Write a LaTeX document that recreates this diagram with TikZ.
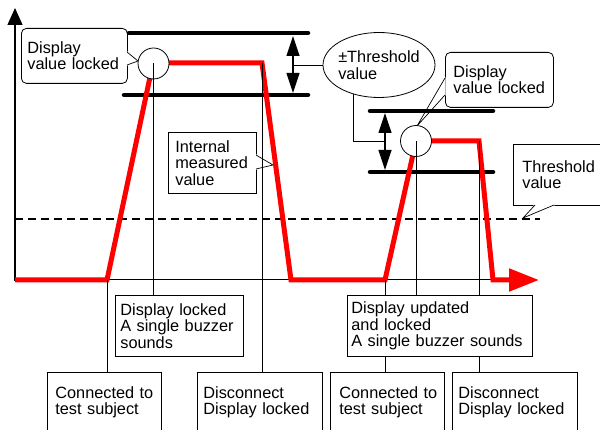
\documentclass[tikz,border=0pt]{standalone}
\usepackage{fontspec}
\setmainfont{Liberation Sans}
\usetikzlibrary{arrows.meta,shapes.geometric}
\newcommand\diagfont{\fontsize{16.3}{16.5}\selectfont}
\tikzset{
 box/.style={draw, line width=0.8pt, fill=white, anchor=north west, align=left, inner ysep=0pt, font=\diagfont},
 callout/.style={box, rounded corners=5pt},
 conn/.style={line width=0.7pt},
 bar/.style={line width=4.5pt, line cap=round},
 dbl/.style={line width=1.2pt, arrows={Triangle[length=20pt,width=13pt]-Triangle[length=20pt,width=13pt]}},
 signal/.style={red, line width=5pt, line join=miter, arrows={-Triangle[length=30pt,width=22pt]}},
 marker/.style={circle, draw, line width=0.8pt, fill=white, minimum size=31pt, inner sep=0pt},
 ptrfill/.style={white, line width=1.4pt, line join=round},
}
\begin{document}
\begin{tikzpicture}[x=1pt,y=-1pt]
\useasboundingbox (0,0) rectangle (600,430);
\fill[white] (0,0) rectangle (600,430);

% boxes and callouts
\node[callout, inner xsep=6pt, text width=94pt, minimum height=55pt] (cl1) at (21,28) {Display\\value locked};
\node[callout, inner xsep=8pt, text width=92pt, minimum height=55pt] (cl2) at (445,52) {Display\\value locked};
\node[box, inner xsep=7pt, text width=74pt, minimum height=61pt] (im) at (168,132) {Internal\\measured\\value};
\node[box, inner xsep=9pt, text width=82pt, minimum height=61pt] (tv) at (513,144) {Threshold\\value};
\node[box, inner xsep=5pt, text width=118pt, minimum height=61pt] (lk) at (115,295) {Display locked\\A single buzzer\\sounds};
\node[box, inner xsep=4pt, text width=177pt, minimum height=61pt] (up) at (347,295) {Display updated\\and locked\\A single buzzer sounds};
\node[box, inner xsep=8pt, text width=98pt, minimum height=60pt] (con1) at (47,372) {\mbox{Connected to}\\test subject};
\node[box, inner xsep=6pt, text width=113pt, minimum height=60pt] (dis1) at (197,372) {Disconnect\\Display locked};
\node[box, inner xsep=9pt, text width=96pt, minimum height=60pt] (con2) at (330,372) {\mbox{Connected to}\\test subject};
\node[box, inner xsep=6pt, text width=113pt, minimum height=60pt] (dis2) at (452,372) {Disconnect\\Display locked};

% callout pointers
\filldraw[ptrfill] (127,52) -- (138,61) -- (127,65) -- cycle;
\draw[conn] (127,52) -- (138,61) -- (127,65);
\filldraw[ptrfill] (445,78) -- (417,126) -- (445,95) -- cycle;
\draw[conn] (445,78) -- (417,126) -- (445,95);
\filldraw[ptrfill] (256,155) -- (273,165) -- (256,169) -- cycle;
\draw[conn] (256,155) -- (273,165) -- (256,169);
\filldraw[ptrfill] (535,205) -- (523,218) -- (554,205) -- cycle;
\draw[conn] (535,205) -- (523,218) -- (554,205);

% threshold ellipse
\node[draw, ellipse, line width=0.8pt, fill=white, minimum width=112pt, minimum height=65pt, inner sep=0pt] (ell) at (379,65) {};
\node[font=\diagfont, align=left, inner sep=0pt] (elltext) at (ell.center) {±Threshold\\value};

% bands
\draw[bar] (129,33) -- (308,33);
\draw[bar] (124,95) -- (308,95);
\draw[bar] (370,111) -- (493,111);
\draw[bar] (370,172) -- (493,172);
\coordinate (a1t) at (293,36);
\coordinate (a1b) at (293,93);
\coordinate (a1m) at (293,65);
\coordinate (a2t) at (385,113);
\coordinate (a2b) at (385,170);
\coordinate (a2m) at (385,141);
\draw[dbl] (a1t) -- (a1b);
\draw[dbl] (a2t) -- (a2b);
\draw[conn] (a1m) -- (ell.west);
\draw[conn] (ell.229) |- (a2m);

% threshold line
\draw[line width=2.5pt, dash pattern=on 8pt off 5pt] (15,219) -- (540,219);

% axes
\draw[line width=1pt] (15,280) -- (510,280);
\draw[line width=1.2pt, arrows={-Triangle[length=17pt,width=15pt]}] (15,281) -- (15,8);

% measured signal
\coordinate (p0) at (15,280);
\coordinate (p1a) at (107,280);
\coordinate (p1b) at (153,63);
\coordinate (p1c) at (262,63);
\coordinate (p1d) at (291,280);
\coordinate (p2a) at (385,280);
\coordinate (p2b) at (416,141);
\coordinate (p2c) at (479,141);
\coordinate (p2d) at (493,280);
\coordinate (pend) at (539,280);
\draw[signal] (p0) -- (p1a) -- (p1b) -- (p1c) -- (p1d) -- (p2a) -- (p2b) -- (p2c) -- (p2d) -- (pend);

% lock markers
\node[marker] (c1) at (153.5,63.5) {};
\node[marker] (c2) at (416,141) {};

% event connectors
\draw[conn] (p1a) -- (p1a |- con1.north);
\draw[conn] (c1.center) -- (c1.center |- lk.north);
\draw[conn] (p1c) -- (p1c |- dis1.north);
\draw[conn] (p2a) -- (p2a |- up.north);
\draw[conn] (c2.center) -- (c2.center |- up.north);
\draw[conn] (p2c) -- (p2c |- up.north);
\draw[conn] (p2a |- up.south) -- (p2a |- con2.north);
\draw[conn] (p2c |- up.south) -- (p2c |- dis2.north);
\end{tikzpicture}
\end{document}
